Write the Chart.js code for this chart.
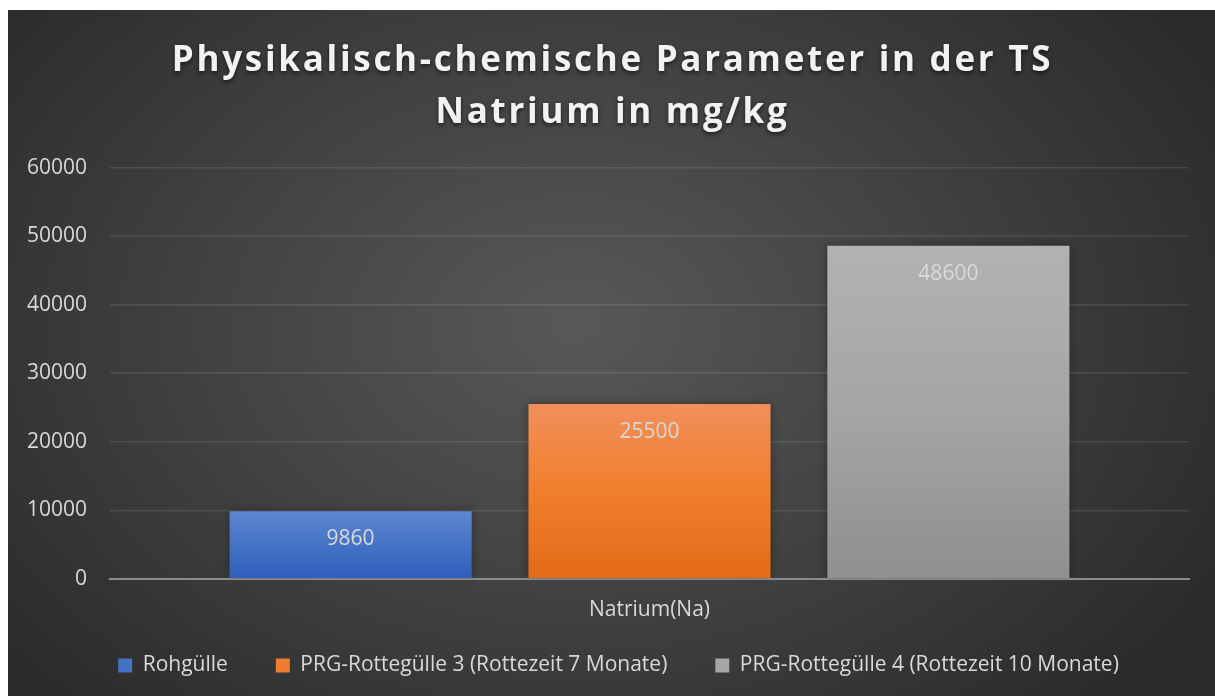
<!DOCTYPE html>
<html>
<head>
<meta charset="utf-8">
<script src="https://cdn.jsdelivr.net/npm/chart.js@4.4.1/dist/chart.umd.min.js"></script>
<style>
  html, body { margin: 0; padding: 0; background: #ffffff; }
  #wrap {
    position: absolute; left: 8px; top: 10px; width: 1207px; height: 686px;
    background: radial-gradient(ellipse 62% 78% at 47% 46%, #585858 0%, #444444 45%, #2a2a2a 100%);
  }
</style>
</head>
<body>
<div id="wrap"><canvas id="bar-chart" width="1207" height="686"></canvas></div>
<script>
// data
var categories = ['Natrium(Na)'];
var seriesNames = ['Rohgülle', 'PRG-Rottegülle 3 (Rottezeit 7 Monate)', 'PRG-Rottegülle 4 (Rottezeit 10 Monate)'];
var rohguelle = [9860];
var rotte3 = [25500];
var rotte4 = [48600];
var titleLines = ['Physikalisch-chemische Parameter in der TS', 'Natrium in mg/kg'];

var bodyFont = "'Open Sans', 'Noto Sans', sans-serif";

// top / middle / bottom colours of each bar gradient
var barTop = ['#5e86d2', '#f18f5b', '#b2b2b2'];
var barMid = ['#4472c4', '#f07f2c', '#a5a5a5'];
var barBottom = ['#2f5fbd', '#e36a17', '#8f8f8f'];
var legendColors = ['#4472c4', '#ed7d31', '#a5a5a5'];

function barGradient(i) {
  return function(c) {
    var chart = c.chart;
    if (!chart.chartArea) return legendColors[i];
    var y = chart.scales.y;
    var top = y.getPixelForValue(c.raw);
    var bottom = y.getPixelForValue(0);
    var g = chart.ctx.createLinearGradient(0, top, 0, bottom);
    g.addColorStop(0, barTop[i]);
    g.addColorStop(0.5, barMid[i]);
    g.addColorStop(1, barBottom[i]);
    return g;
  };
}

// letter spaced title with a shadow, centred on the whole canvas
var titleStyle = {
  id: 'titleStyle',
  beforeLayout: function(chart) {
    var t = chart.titleBlock;
    if (t && !t._styled) {
      var draw = t.draw;
      t.draw = function() {
        var ctx = chart.ctx;
        ctx.save();
        ctx.translate(14, 0);
        ctx.letterSpacing = '2.7px';
        ctx.shadowColor = 'rgba(0,0,0,0.6)';
        ctx.shadowOffsetY = 2;
        ctx.shadowBlur = 4;
        draw.apply(this, arguments);
        ctx.restore();
      };
      t._styled = true;
    }
  },
  afterLayout: function(chart) {
    // legend keeps its wide item gap but its row sits higher
    var lg = chart.legend;
    lg.top -= 35;
    lg.left += 20;
    lg.right += 20;
  }
};

var barShadow = {
  id: 'barShadow',
  beforeDatasetsDraw: function(chart) {
    var ctx = chart.ctx;
    ctx.save();
    ctx.shadowColor = 'rgba(0,0,0,0.35)';
    ctx.shadowBlur = 8;
  },
  afterDatasetsDraw: function(chart) {
    var ctx = chart.ctx;
    ctx.restore();
    ctx.save();
    ctx.font = '21px ' + bodyFont;
    ctx.fillStyle = '#d9d9d9';
    ctx.textAlign = 'center';
    ctx.textBaseline = 'middle';
    chart.data.datasets.forEach(function(ds, i) {
      chart.getDatasetMeta(i).data.forEach(function(bar, j) {
        ctx.fillText(String(ds.data[j]), bar.x, bar.y + 28);
      });
    });
    ctx.restore();
  }
};

myChart = new Chart(document.getElementById('bar-chart'), {
  type: 'bar',
  data: {
    labels: categories,
    datasets: [{
        label: seriesNames[0],
        data: rohguelle,
        backgroundColor: barGradient(0)
      }, {
        label: seriesNames[1],
        data: rotte3,
        backgroundColor: barGradient(1)
      }, {
        label: seriesNames[2],
        data: rotte4,
        backgroundColor: barGradient(2)
      }
    ]
  },
  plugins: [titleStyle, barShadow],
  options: {
    responsive: false,
    animation: false,
    layout: { padding: { left: 0, right: 26, top: 0, bottom: 0 } },
    datasets: {
      bar: { categoryPercentage: 0.831, barPercentage: 0.81 }
    },
    scales: {
      x: {
        grid: { display: false, drawTicks: false },
        border: { display: true, color: '#8c8c8c', width: 2 },
        ticks: { color: '#d9d9d9', font: { family: bodyFont, size: 21 }, padding: 19 }
      },
      y: {
        min: 0,
        max: 60000,
        ticks: {
          stepSize: 10000,
          color: '#d9d9d9',
          font: { family: bodyFont, size: 21 },
          padding: 23,
          callback: function(v) { return String(v); }
        },
        grid: { color: 'rgba(255,255,255,0.1)', lineWidth: 1.5, drawTicks: false },
        border: { display: false },
        afterFit: function(axis) { axis.width = 102; }
      }
    },
    plugins: {
      title: {
        display: true,
        text: titleLines,
        color: '#f2f2f2',
        font: { family: bodyFont, size: 35, weight: 'bold', lineHeight: 1.48 },
        padding: { top: 25, bottom: 29 }
      },
      legend: {
        position: 'bottom',
        maxHeight: 54,
        labels: {
          color: '#d9d9d9',
          font: { family: bodyFont, size: 21 },
          boxWidth: 14,
          boxHeight: 14,
          padding: 48,
          generateLabels: function(chart) {
            return chart.data.datasets.map(function(ds, i) {
              return {
                text: ds.label,
                fillStyle: legendColors[i],
                strokeStyle: legendColors[i],
                lineWidth: 0,
                fontColor: '#d9d9d9',
                datasetIndex: i
              };
            });
          }
        }
      },
      tooltip: { enabled: false }
    }
  }
});
</script>
</body>
</html>
